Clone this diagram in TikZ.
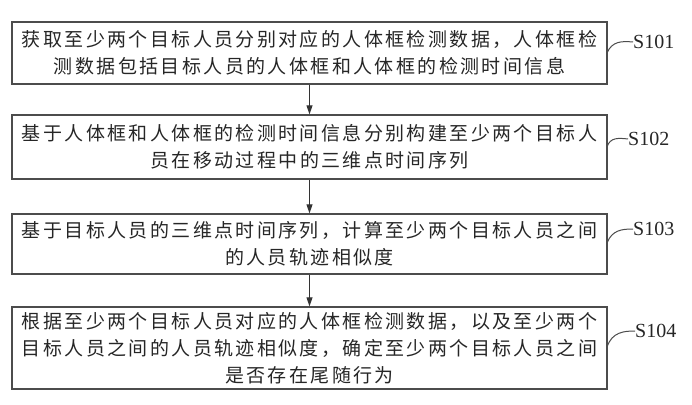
\documentclass[tikz,border=0pt]{standalone}
\usepackage{fontspec}
\setmainfont{Liberation Serif}
\newfontfamily\cjkfont[LetterSpace=12.6]{Noto Sans CJK SC}
\usetikzlibrary{arrows.meta}
\begin{document}
\begin{tikzpicture}[x=1pt,y=-1pt,
  stepbox/.style={draw=black!70,line width=1.3pt,rectangle,inner sep=0pt,
    minimum width=595pt,align=center,
    font={\cjkfont\fontsize{19pt}{27pt}\selectfont},text=black!85},
  flow/.style={draw=black!80,line width=1pt,-{Triangle[length=9pt,width=6pt]}},
  lead/.style={draw=black!70,line width=1pt},
  tag/.style={anchor=west,inner sep=0pt,font={\fontsize{20pt}{22pt}\selectfont},text=black!85}]
\useasboundingbox (0,0) rectangle (692,404);

% process steps
\node[stepbox,minimum height=62pt] (b1) at (309.5,53)
  {获取至少两个目标人员分别对应的人体框检测数据，人体框检\\测数据包括目标人员的人体框和人体框的检测时间信息};
\node[stepbox,minimum height=64pt] (b2) at (309.5,147)
  {基于人体框和人体框的检测时间信息分别构建至少两个目标人\\员在移动过程中的三维点时间序列};
\node[stepbox,minimum height=60pt] (b3) at (309.5,244)
  {基于目标人员的三维点时间序列，计算至少两个目标人员之间\\的人员轨迹相似度};
\node[stepbox,minimum height=82pt] (b4) at (309.5,348)
  {根据至少两个目标人员对应的人体框检测数据，以及至少两个\\目标人员之间的人员轨迹相似度，确定至少两个目标人员之间\\是否存在尾随行为};

% flow arrows
\draw[flow] (b1) -- (b2);
\draw[flow] (b2) -- (b3);
\draw[flow] (b3) -- (b4);

% step labels
\node[tag] (s1) at (633,42) {S101};
\node[tag] (s2) at (628,139) {S102};
\node[tag] (s3) at (633,229) {S103};
\node[tag] (s4) at (635,331) {S104};

% leader curves from box edges to labels
\coordinate (e1) at (607,53);
\coordinate (e2) at (607,147);
\coordinate (e3) at (607,243);
\coordinate (e4) at (607,347);
\draw[lead] (e1) .. controls (612,41) and (622,41) .. (s1.west);
\draw[lead] (e2) .. controls (610,137) and (619,138) .. (s2.west);
\draw[lead] (e3) .. controls (612,230) and (622,229) .. (s3.west);
\draw[lead] (e4) .. controls (612,332) and (624,331) .. (s4.west);
\end{tikzpicture}
\end{document}
